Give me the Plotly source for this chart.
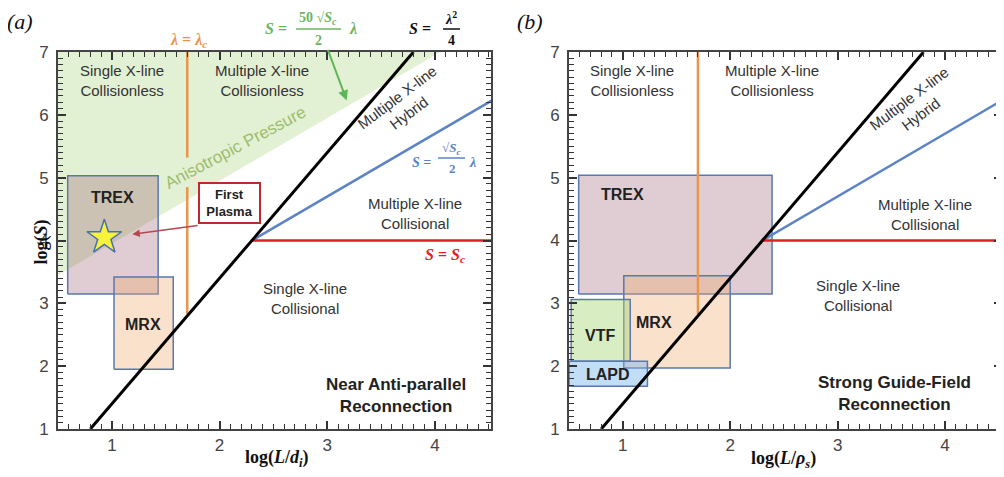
import plotly.graph_objects as go

W, H = 1004, 477
PAGE_OFFSET = 8  # the page's default body margin shifts the figure by this many px

# ---------------- data ----------------
x_range_a = [0.5, 4.52]
x_range_b = [0.5, 4.53]
y_range = [1, 7]
x_major = [1, 2, 3, 4]
y_major = [1, 2, 3, 4, 5, 6, 7]
x_minor = [round(0.5 + 0.1 * i, 1) for i in range(41) if round(0.5 + 0.1 * i, 1) not in x_major]
y_minor = [round(1.0 + 0.1 * i, 1) for i in range(61) if round(1.0 + 0.1 * i, 1) not in y_major]

# S = lambda^2/4  (black)
sp_x = [0.8, 3.8]
sp_y = [1.0, 7.0]
# S = sqrt(Sc)/2 * lambda  (blue)
pl_x = [2.3, 4.53]
pl_y = [4.0, 6.23]
# S = Sc (red)
sc_x = [2.3, 4.53]
sc_y = [4.0, 4.0]
# lambda = lambda_c (orange)
lam_c = 1.7
orange_a_y = [[2.83, 4.85], [5.32, 7.0]]
orange_b_y = [2.83, 7.0]
# anisotropic pressure region (green)
aniso_x = [0.5, 4.05, 0.5, 0.5]
aniso_y = [3.45, 7.0, 7.0, 3.45]

# experiments: [x0, x1, y0, y1]
trex_a = [0.59, 1.43, 3.15, 5.03]
mrx_a = [1.02, 1.57, 1.95, 3.42]
trex_b = [0.59, 2.39, 3.15, 5.04]
mrx_b = [1.01, 2.00, 1.97, 3.44]
vtf_b = [0.52, 1.07, 2.08, 3.06]
lapd_b = [0.50, 1.23, 1.68, 2.08]
first_plasma = [0.93, 4.05]

# ---------------- styles ----------------
SANS = "Liberation Sans"
SERIF = "Liberation Serif"
TXT = "#333333"
BOX_LINE = "#5a78b0"
C_TREX = "rgba(150,90,110,0.30)"
C_MRX = "rgba(240,170,110,0.35)"
C_VTF = "rgba(170,215,120,0.45)"
C_LAPD = "rgba(120,180,235,0.45)"
C_ANISO = "rgba(160,205,110,0.30)"
C_BLACK = "#000000"
C_BLUE = "#5b83c6"
C_RED = "#e02020"
C_ORANGE = "#e8954e"
C_GREEN = "#5db55a"


def px(x, y):
    return (x - PAGE_OFFSET) / W, 1 - (y - PAGE_OFFSET) / H


def pxx(x):
    return (x - PAGE_OFFSET) / W


def pxy(y):
    return 1 - (y - PAGE_OFFSET) / H


fig = go.Figure()


def box(b, color, xa, ya):
    x0, x1, y0, y1 = b
    fig.add_trace(go.Scatter(
        x=[x0, x1, x1, x0, x0], y=[y0, y0, y1, y1, y0],
        mode="lines", fill="toself", fillcolor=color,
        line=dict(color=BOX_LINE, width=1.5),
        xaxis=xa, yaxis=ya, hoverinfo="skip", showlegend=False))


def line(x, y, color, width, xa, ya):
    fig.add_trace(go.Scatter(
        x=x, y=y, mode="lines", line=dict(color=color, width=width),
        xaxis=xa, yaxis=ya, hoverinfo="skip", showlegend=False))


# ---- panel (a) ----
fig.add_trace(go.Scatter(x=aniso_x, y=aniso_y, mode="lines", fill="toself",
                         fillcolor=C_ANISO, line=dict(width=0),
                         xaxis="x", yaxis="y", hoverinfo="skip", showlegend=False))
box(trex_a, C_TREX, "x", "y")
box(mrx_a, C_MRX, "x", "y")
for seg in orange_a_y:
    line([lam_c, lam_c], seg, C_ORANGE, 2.5, "x", "y")
line(pl_x, pl_y, C_BLUE, 2.5, "x", "y")
line(sc_x, sc_y, C_RED, 2.5, "x", "y")
line(sp_x, sp_y, C_BLACK, 3, "x", "y")
fig.add_trace(go.Scatter(x=[first_plasma[0]], y=[first_plasma[1]], mode="markers",
                         marker=dict(symbol="star", size=26, color="#f7f23a",
                                     line=dict(color="#4a6fb0", width=1.5)),
                         xaxis="x", yaxis="y", hoverinfo="skip", showlegend=False))

# ---- panel (b) ----
box(trex_b, C_TREX, "x2", "y2")
box(mrx_b, C_MRX, "x2", "y2")
box(vtf_b, C_VTF, "x2", "y2")
box(lapd_b, C_LAPD, "x2", "y2")
line([lam_c, lam_c], orange_b_y, C_ORANGE, 2.5, "x2", "y2")
line(pl_x, pl_y, C_BLUE, 2.5, "x2", "y2")
line(sc_x, sc_y, C_RED, 2.5, "x2", "y2")
line(sp_x, sp_y, C_BLACK, 3, "x2", "y2")

ann = []


def label(x, y, text, xr, yr, size=15, color=TXT, bold=False, angle=0, family=SANS):
    t = f"<b>{text}</b>" if bold else text
    ann.append(dict(x=x, y=y, xref=xr, yref=yr, text=t, showarrow=False,
                    font=dict(family=family, size=size, color=color),
                    textangle=angle, align="center"))


# region labels panel a
label(1.09, 6.55, "Single X-line<br>Collisionless", "x", "y")
label(2.39, 6.55, "Multiple X-line<br>Collisionless", "x", "y")
label(3.70, 6.15, "Multiple X-line<br>Hybrid", "x", "y", angle=-37)
label(3.81, 4.43, "Multiple X-line<br>Collisional", "x", "y")
label(2.79, 3.07, "Single X-line<br>Collisional", "x", "y")
label(3.64, 1.53, "Near Anti-parallel<br>Reconnection", "x", "y", size=17, color="#222", bold=True)
label(1.01, 4.68, "TREX", "x", "y", size=16, color="#222", bold=True)
label(1.29, 2.67, "MRX", "x", "y", size=16, color="#222", bold=True)
label(2.15, 5.48, "Anisotropic Pressure", "x", "y", size=17, color="#9dbd6c", angle=-28)
label(4.09, 3.76, "<i>S</i> = <i>S</i><sub><i>c</i></sub>", "x", "y", size=16,
      color=C_RED, bold=True, family=SERIF)

# first plasma box + arrow
ann.append(dict(x=2.09, y=4.59, xref="x", yref="y", text="<b>First<br>Plasma</b>",
                showarrow=False, font=dict(family=SANS, size=13, color="#222"),
                bgcolor="white", bordercolor="#c0282d", borderwidth=2,
                width=55, height=34, borderpad=2))
ann.append(dict(x=1.19, y=4.10, ax=1.81, ay=4.24, xref="x", yref="y",
                axref="x", ayref="y", text="", showarrow=True, arrowhead=2,
                arrowsize=1, arrowwidth=1.5, arrowcolor="#b5474f"))
# green arrow
ann.append(dict(x=3.18, y=6.23, ax=3.0, ay=7.06, xref="x", yref="y",
                axref="x", ayref="y", text="", showarrow=True, arrowhead=2,
                arrowsize=1, arrowwidth=2, arrowcolor=C_GREEN))

# region labels panel b
label(1.09, 6.55, "Single X-line<br>Collisionless", "x2", "y2")
label(2.39, 6.55, "Multiple X-line<br>Collisionless", "x2", "y2")
label(3.72, 6.13, "Multiple X-line<br>Hybrid", "x2", "y2", angle=-37)
label(3.81, 4.42, "Multiple X-line<br>Collisional", "x2", "y2")
label(3.19, 3.13, "Single X-line<br>Collisional", "x2", "y2")
label(3.53, 1.57, "Strong Guide-Field<br>Reconnection", "x2", "y2", size=17, color="#222", bold=True)
label(1.00, 4.73, "TREX", "x2", "y2", size=16, color="#222", bold=True)
label(1.29, 2.69, "MRX", "x2", "y2", size=16, color="#222", bold=True)
label(0.79, 2.49, "VTF", "x2", "y2", size=16, color="#222", bold=True)
label(0.86, 1.87, "LAPD", "x2", "y2", size=16, color="#222", bold=True)

shapes = []


def ptext(x, y, text, size, color, family=SERIF, italic=False, bold=True):
    t = text
    if italic:
        t = f"<i>{t}</i>"
    if bold:
        t = f"<b>{t}</b>"
    X, Y = px(x, y)
    ann.append(dict(x=X, y=Y, xref="paper", yref="paper", text=t, showarrow=False,
                    font=dict(family=family, size=size, color=color),
                    xanchor="center", yanchor="middle", borderpad=0))


def bar(x0, x1, y, color):
    X0, Y = px(x0, y)
    X1, _ = px(x1, y)
    shapes.append(dict(type="line", xref="paper", yref="paper", x0=X0, x1=X1,
                       y0=Y, y1=Y, line=dict(color=color, width=1.5)))


# panel labels
ptext(20, 22, "(a)", 22, "#111", italic=True, bold=False)
ptext(530, 22, "(b)", 22, "#111", italic=True, bold=False)

# lambda = lambda_c
ptext(188, 41, "<i>λ</i> = <i>λ</i><sub><i>c</i></sub>", 16, C_ORANGE)

# green formula S = 50 sqrt(Sc)/2 lambda
ptext(276, 29, "<i>S</i> =", 16, "#6cb560")
ptext(318, 18, "50 √<i>S</i><sub><i>c</i></sub>", 14, "#6cb560")
bar(296, 341, 29, "#6cb560")
ptext(318, 40, "2", 14, "#6cb560")
ptext(353, 29, "<i>λ</i>", 16, "#6cb560")

# black formula S = lambda^2/4
ptext(420, 29, "<i>S</i> =", 16, "#111")
ptext(451, 18, "<i>λ</i><sup>2</sup>", 14, "#111")
bar(443, 460, 29, "#111")
ptext(451, 40, "4", 14, "#111")

# blue formula S = sqrt(Sc)/2 lambda
ptext(421, 162, "<i>S</i> =", 14, C_BLUE)
ptext(451, 149, "√<i>S</i><sub><i>c</i></sub>", 13, C_BLUE)
bar(438, 465, 158, C_BLUE)
ptext(452, 168, "2", 13, C_BLUE)
ptext(472, 162, "<i>λ</i>", 14, C_BLUE)

# axis titles
ptext(277, 458, "log(<i>L</i>/<i>d</i><sub><i>i</i></sub>)", 18, "#111")
ptext(783, 459, "log(<i>L</i>/<i>ρ</i><sub><i>s</i></sub>)", 18, "#111")
X, Y = px(28, 242)
ann.append(dict(x=X, y=Y, xref="paper", yref="paper", text="<b>log(<i>S</i>)</b>",
                showarrow=False, textangle=-90,
                font=dict(family=SERIF, size=18, color="#111")))

y_top, y_bot = 52, 429
ydom = [pxy(y_bot), pxy(y_top)]

axis_common = dict(
    showgrid=False, zeroline=False, showline=True, linecolor="#444", linewidth=2,
    mirror="allticks", ticks="inside", ticklen=8, tickwidth=1.5, tickcolor="#333",
    tickmode="array", automargin=False,
    tickfont=dict(family=SANS, size=17, color="#444"),
    fixedrange=True,
)


def minor(vals):
    return dict(tickmode="array", tickvals=vals, ticks="inside", ticklen=5,
                tickwidth=1.2, tickcolor="#333", showgrid=False)


fig.update_layout(
    template="none",
    width=W, height=H, margin=dict(l=0, r=0, t=0, b=0, pad=0, autoexpand=False),
    paper_bgcolor="white", plot_bgcolor="white", showlegend=False,
    xaxis=dict(domain=[pxx(58), pxx(491)], range=x_range_a, tickvals=x_major,
               minor=minor(x_minor), anchor="y", **axis_common),
    yaxis=dict(domain=ydom, range=y_range, tickvals=y_major, minor=minor(y_minor),
               anchor="x", ticklabelstandoff=4, **axis_common),
    xaxis2=dict(domain=[pxx(569), pxx(1002)], range=x_range_b, tickvals=x_major,
                minor=minor(x_minor), anchor="y2", **axis_common),
    yaxis2=dict(domain=ydom, range=y_range, tickvals=y_major, minor=minor(y_minor),
                anchor="x2", ticklabelstandoff=4, **axis_common),
    annotations=ann, shapes=shapes,
)

fig.write_html("out.html")
